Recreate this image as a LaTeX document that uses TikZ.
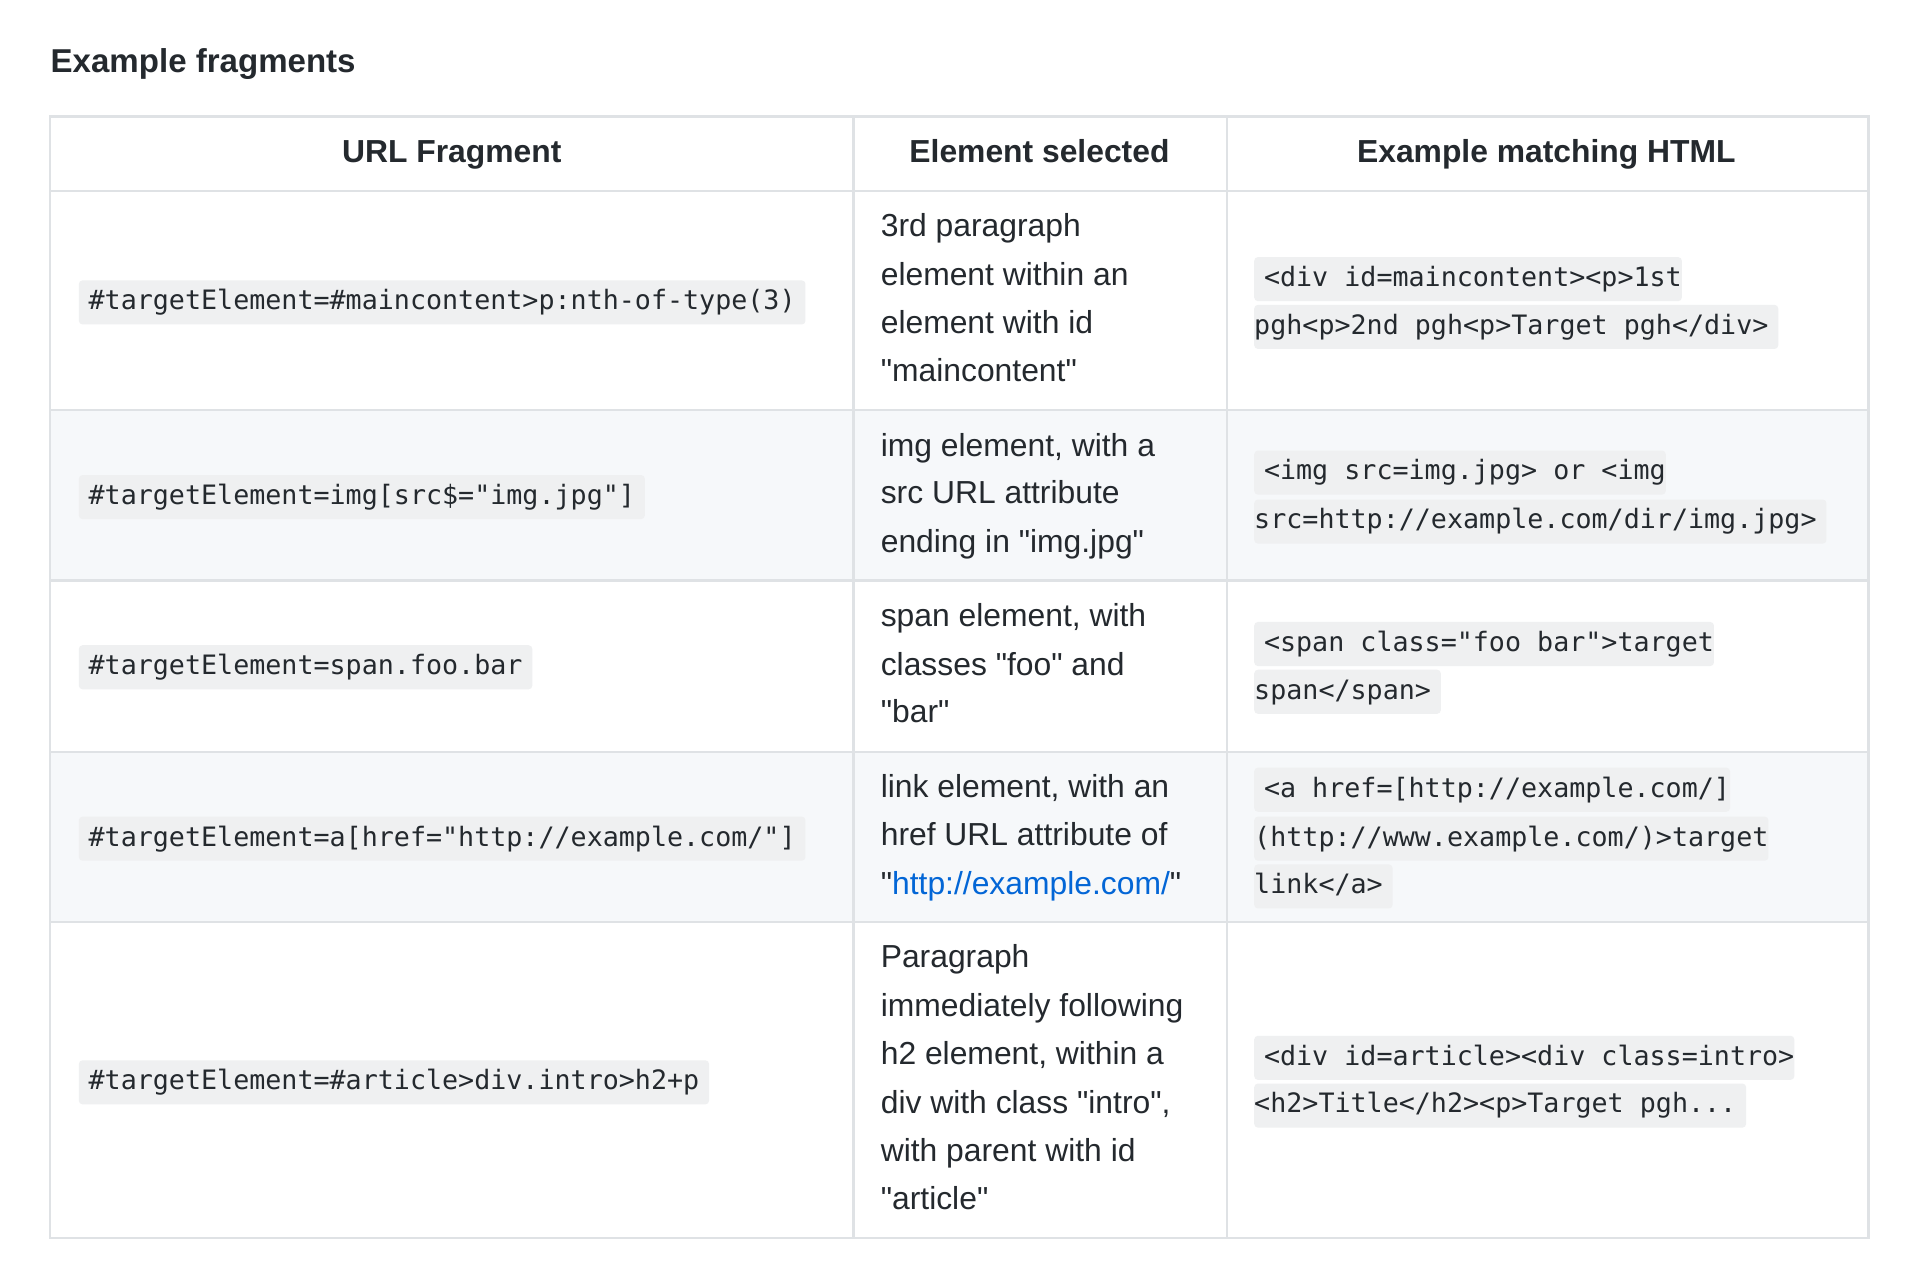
\documentclass[tikz,border=0pt]{standalone}
\usepackage{fontspec}
\setmainfont{Liberation Sans}
\newfontfamily\codefont{DejaVu Sans Mono}
\definecolor{bordc}{HTML}{DFE2E5}
\definecolor{rowshade}{HTML}{F6F8FA}
\definecolor{codebg}{HTML}{EFF0F1}
\definecolor{txt}{HTML}{24292E}
\definecolor{linkc}{HTML}{0366D6}
\tikzset{
 body/.style={anchor=west,inner sep=0pt,text height=9.5pt,text depth=3pt,font=\fontsize{13}{15}\selectfont,text=txt},
 head/.style={inner sep=0pt,text height=9.5pt,text depth=3pt,font=\fontsize{13}{15}\selectfont\bfseries,text=txt},
 code/.style={anchor=west,fill=codebg,inner ysep=0pt,inner xsep=4pt,minimum height=18pt,text height=8.5pt,text depth=2.5pt,font=\fontsize{10.9}{13}\codefont,text=txt,rounded corners=1.5pt},
 codeA/.style={code,inner xsep=0pt},
}
\newcommand{\padL}[1]{\hspace*{4pt}#1}
\newcommand{\padR}[1]{#1\hspace*{4pt}}
\newcommand{\q}{\textquotedbl}
\begin{document}
\begin{tikzpicture}[x=0.5pt,y=-0.5pt]
\useasboundingbox (0,0) rectangle (1560,1048);
\fill[white] (0,0) rectangle (1560,1048);
\node[anchor=west,inner sep=0pt,font=\fontsize{13.5}{15}\selectfont\bfseries,text=txt] (title) at (41,52) {Example fragments};
\fill[rowshade] (41,335) rectangle (1526,474);
\fill[rowshade] (41,614) rectangle (1526,753);
\draw[bordc,line width=1pt] (41,95) rectangle (1526,1011);
\foreach \yy in {156,335,474,614,753} \draw[bordc,line width=1pt] (41,\yy) -- (1526,\yy);
\foreach \xx in {697,1002} \draw[bordc,line width=1pt] (\xx,95) -- (\xx,1011);
\node[head] (h1) at (369,126) {URL Fragment};
\node[head] (h2) at (849,126) {Element selected};
\node[head] (h3) at (1263,126) {Example matching HTML};
\node[code] (c11) at (64,247) {\#targetElement=\#maincontent>p:nth-of-type(3)};
\node[code] (c21) at (64,406) {\#targetElement=img[src\$="img.jpg"]};
\node[code] (c31) at (64,545) {\#targetElement=span.foo.bar};
\node[code] (c41) at (64,685) {\#targetElement=a[href="http://example.com/"]};
\node[code] (c51) at (64,884) {\#targetElement=\#article>div.intro>h2+p};
\node[body] (t1a) at (719,187) {3rd paragraph};
\node[body] (t1b) at (719,227) {element within an};
\node[body] (t1c) at (719,266) {element with id};
\node[body] (t1d) at (719,305) {\q maincontent\q};
\node[body] (t2a) at (719,366) {img element, with a};
\node[body] (t2b) at (719,405) {src URL attribute};
\node[body] (t2c) at (719,445) {ending in \q img.jpg\q};
\node[body] (t3a) at (719,505) {span element, with};
\node[body] (t3b) at (719,545) {classes \q foo\q{} and};
\node[body] (t3c) at (719,584) {\q bar\q};
\node[body] (t4a) at (719,645) {link element, with an};
\node[body] (t4b) at (719,684) {href URL attribute of};
\node[body] (t4c) at (719,724) {\q\textcolor{linkc}{http://example.com/}\q};
\node[body] (t5a) at (719,784) {Paragraph};
\node[body] (t5b) at (719,824) {immediately following};
\node[body] (t5c) at (719,863) {h2 element, within a};
\node[body] (t5d) at (719,903) {div with class \q intro\q,};
\node[body] (t5e) at (719,942) {with parent with id};
\node[body] (t5f) at (719,981) {\q article\q};
\node[codeA] (e1a) at (1024,228) {\padL{<div id=maincontent><p>1st}};
\node[codeA] (e1b) at (1024,267) {\padR{pgh<p>2nd pgh<p>Target pgh</div>}};
\node[codeA] (e2a) at (1024,386) {\padL{<img src=img.jpg> or <img}};
\node[codeA] (e2b) at (1024,426) {\padR{src=http://example.com/dir/img.jpg>}};
\node[codeA] (e3a) at (1024,526) {\padL{<span class="foo bar">target}};
\node[codeA] (e3b) at (1024,565) {\padR{span</span>}};
\node[codeA] (e4a) at (1024,645) {\padL{<a href=[http://example.com/]}};
\node[codeA] (e4b) at (1024,685) {(http://www.example.com/)>target};
\node[codeA] (e4c) at (1024,724) {\padR{link</a>}};
\node[codeA] (e5a) at (1024,864) {\padL{<div id=article><div class=intro>}};
\node[codeA] (e5b) at (1024,903) {\padR{<h2>Title</h2><p>Target pgh...}};
\end{tikzpicture}
\end{document}
